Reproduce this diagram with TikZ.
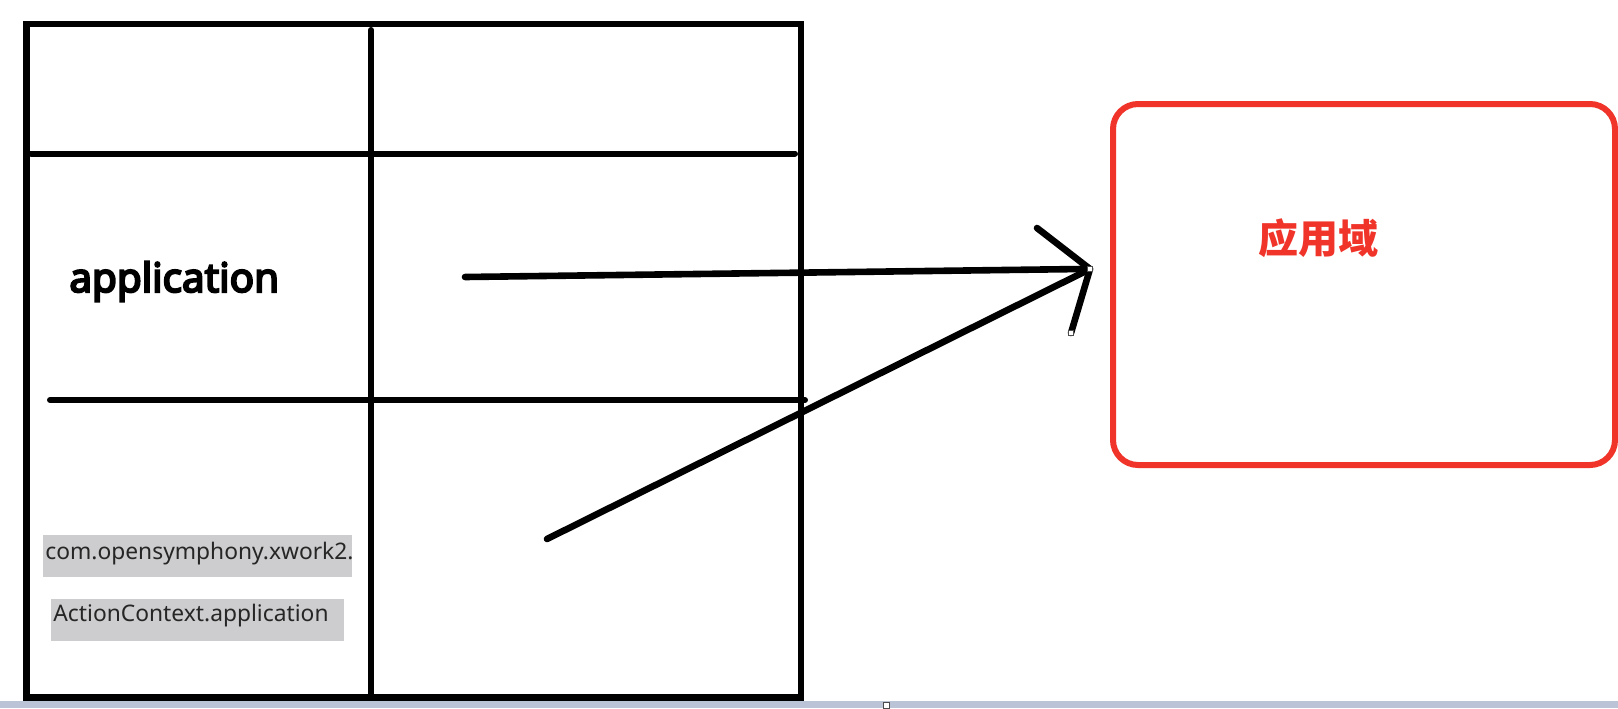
\documentclass[tikz,border=0pt]{standalone}
\usepackage{fontspec}
\usetikzlibrary{calc}
\setmainfont{Noto Sans}
\newfontfamily\appfont{Noto Sans}[FakeBold=5]
\newfontfamily\cjk{Noto Sans CJK SC}
\definecolor{boxred}{RGB}{240,52,42}
\definecolor{hlgray}{RGB}{205,204,206}
\definecolor{barblue}{RGB}{186,196,214}
\begin{document}
\begin{tikzpicture}[x=0.5pt,y=-0.5pt,
  grid/.style={line width=3pt, line cap=round},
  pen/.style={line width=3.3pt, line cap=round, line join=round},
  handle/.style={draw=black!70, fill=white, line width=0.4pt},
  bigtxt/.style={font=\appfont\fontsize{20.2}{24}\selectfont, anchor=base west, inner sep=0pt},
  smalltxt/.style={font=\fontsize{11.4}{13}\selectfont, text=black!85, anchor=base west, inner sep=0pt},
  domainbox/.style={draw=boxred, line width=3pt, rounded corners=12.5pt, minimum width=251pt, minimum height=180.5pt, inner sep=0pt},
  domtxt/.style={font=\cjk\bfseries\fontsize{20}{24}\selectfont, text=boxred, inner sep=0pt}]
\useasboundingbox (0,0) rectangle (1618,708);
\fill[white] (0,0) rectangle (1618,708);
% bottom bar
\fill[barblue] (0,701) rectangle (1618,708);
\draw[handle] (883,702) rectangle (889,708);
% table
\draw[line width=3.2pt] (26.5,24) rectangle (801,697.5);
\draw[grid] (371,30) -- (371,697);
\draw[grid] (31,153.5) -- (795,153.5);
\draw[grid] (50,400) -- (805,400);
% texts
\node[bigtxt] (app) at (69,292) {application};
\fill[hlgray] (43,535) rectangle (352,577);
\fill[hlgray] (51,599) rectangle (344,641);
\node[smalltxt] (pkg) at (45,559) {com.opensymphony.xwork2.};
\node[smalltxt] (cls) at (53,621) {ActionContext.application};
% domain box
\node[domainbox] (dom) at (1364,284.5) {};
\node[domtxt] (domlabel) at (1318,238) {应用域};
% arrows
\coordinate (a1s) at (465,277);
\coordinate (a1e) at (1082,269);
\coordinate (tip) at (1090,269);
\coordinate (h1) at (1037,228);
\coordinate (h2) at (1071,333);
\coordinate (a2s) at (547,539);
\draw[pen] (a1s) -- (a1e);
\draw[pen] (a2s) -- (tip);
\draw[pen] (h1) -- (tip) -- (h2);
\draw[handle] ($(tip)+(-2.5,-2.5)$) rectangle ($(tip)+(2.5,2.5)$);
\draw[handle] ($(h2)+(-2.5,-2.5)$) rectangle ($(h2)+(2.5,2.5)$);
\end{tikzpicture}
\end{document}
